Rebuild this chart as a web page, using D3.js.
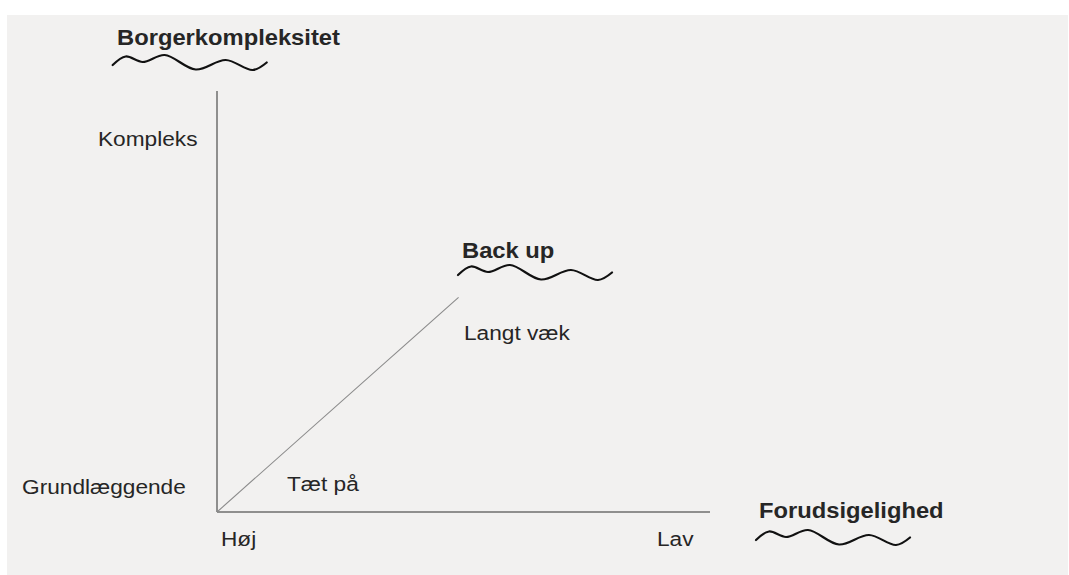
<!DOCTYPE html>
<html>
<head>
<meta charset="utf-8">
<script src="https://cdn.jsdelivr.net/npm/d3@7"></script>
<style>
html,body{margin:0;padding:0;background:#ffffff;}
svg{display:block;}
text{font-family:"Liberation Sans",Arial,sans-serif;fill:#262626;}
</style>
</head>
<body>
<svg id="chart" width="1069" height="575"></svg>
<script>
// Data
const xAxisTitle = "Forudsigelighed";
const yAxisTitle = "Borgerkompleksitet";
const xTickLabels = ["Høj", "Lav"];
const yTickLabels = ["Grundlæggende", "Kompleks"];
const lineValuesX = [0, 0.49];
const lineValuesY = [0, 0.51];
const endLabel = "Back up";
const farLabel = "Langt væk";
const nearLabel = "Tæt på";

const svg = d3.select("#chart");
svg.append("rect").attr("x", 7).attr("y", 15).attr("width", 1061).attr("height", 560).attr("fill", "#f2f1f0");

const x = d3.scaleLinear().domain([0, 1]).range([217, 710]);
const y = d3.scaleLinear().domain([0, 1]).range([512, 91]);

// axes
svg.append("line").attr("x1", x(0)).attr("x2", x(0)).attr("y1", y(0)).attr("y2", y(1))
  .attr("stroke", "#6e6e6e").attr("stroke-width", 1.5);
svg.append("line").attr("x1", x(0)).attr("x2", x(1)).attr("y1", y(0)).attr("y2", y(0))
  .attr("stroke", "#6e6e6e").attr("stroke-width", 1.5);

// diagonal
const pts = lineValuesX.map((v, i) => [x(v), y(lineValuesY[i])]);
svg.append("path").attr("d", d3.line()(pts)).attr("fill", "none")
  .attr("stroke", "#8a8a8a").attr("stroke-width", 1.1);

const SX = 1.08;
function label(t, px, py, bold) {
  svg.append("text").attr("transform", `translate(${px},${py}) scale(${SX},1)`)
    .attr("font-size", bold ? 22 : 21).attr("font-weight", bold ? "bold" : "normal").text(t);
}

label(yAxisTitle, 117, 44.5, true);
label(yTickLabels[1], 98, 146, false);
label(yTickLabels[0], 22, 494, false);
label(xTickLabels[0], 221, 546, false);
label(xTickLabels[1], 657, 546, false);
label(xAxisTitle, 759, 518, true);
label(endLabel, 462, 258, true);
label(farLabel, 464, 340, false);
label(nearLabel, 287, 491, false);

// squiggles
const wave = [[0,0],[13,-8.5],[30,-3],[52,-10],[83,4.5],[113,-5],[140,5],[154,-2.5]];
const wl = d3.line().curve(d3.curveCatmullRom.alpha(0.5));
function squiggle(sx, sy) {
  svg.append("path").attr("d", wl(wave.map(p => [sx + p[0], sy + p[1]])))
    .attr("fill", "none").attr("stroke", "#111").attr("stroke-width", 2.2)
    .attr("stroke-linecap", "round");
}
squiggle(112.7, 65);
squiggle(458, 275);
squiggle(756, 540);
</script>
</body>
</html>
